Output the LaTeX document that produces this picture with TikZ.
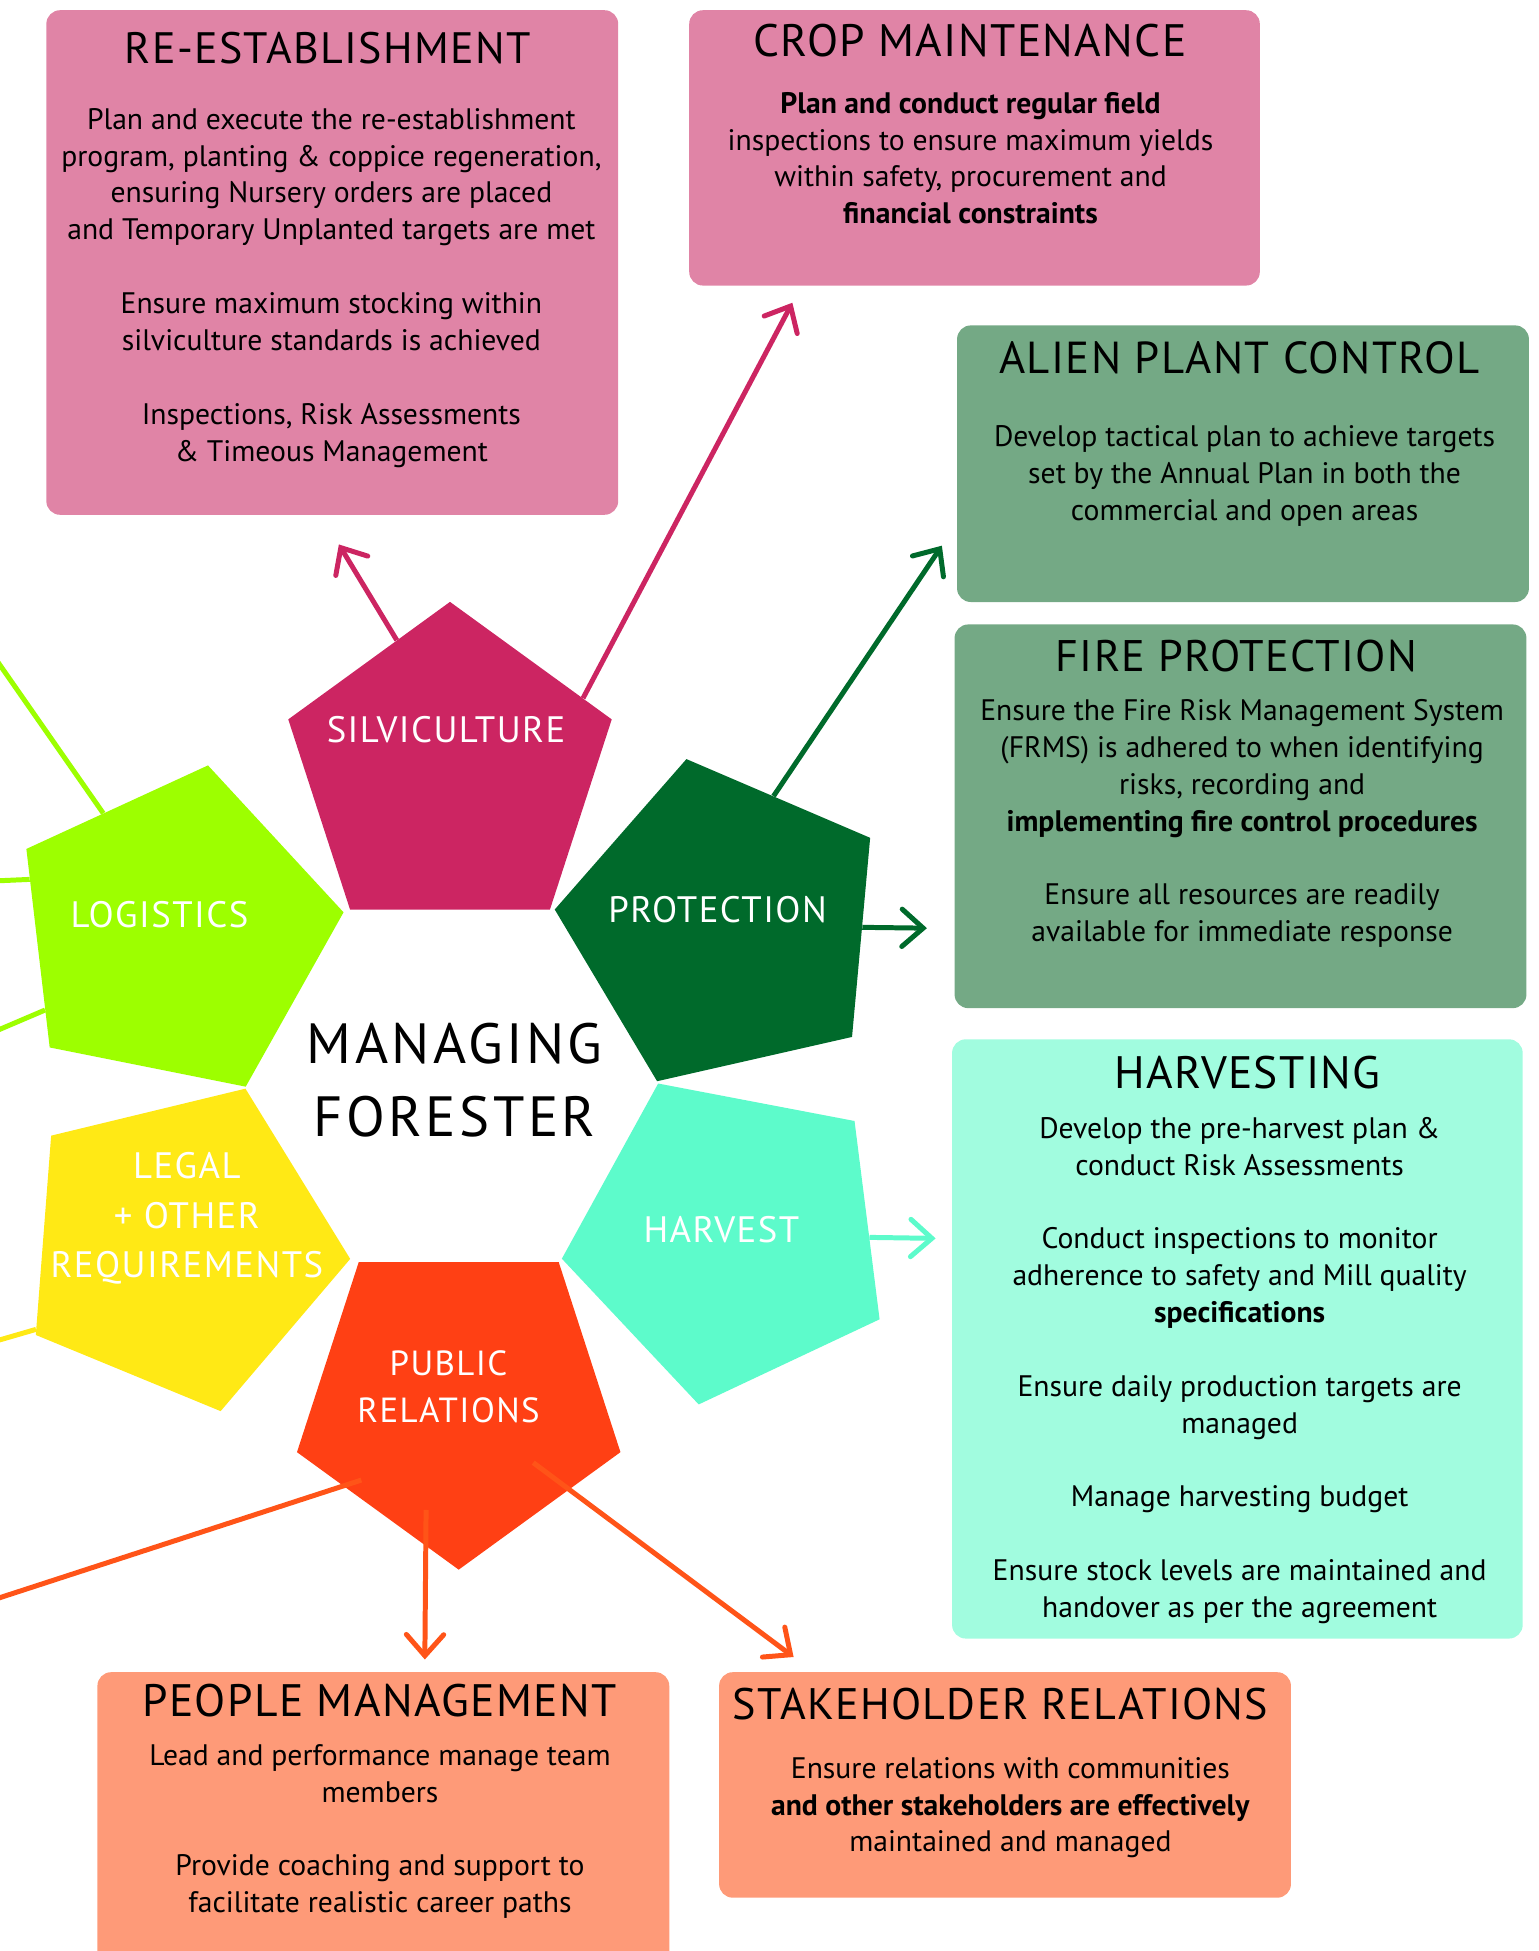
\documentclass[tikz,border=0pt]{standalone}
\usepackage{fontspec}
\setmainfont{PT Sans}
\newfontfamily\labfont[LetterSpace=4]{PT Sans}
\newfontfamily\ttlfont[LetterSpace=3]{PT Sans}
\newfontfamily\ctrfont[LetterSpace=6]{PT Sans}
\usetikzlibrary{shapes.geometric,arrows.meta}
\definecolor{pinkbox}{HTML}{E084A6}
\definecolor{magenta1}{HTML}{CC2562}
\definecolor{greenbox}{HTML}{74A985}
\definecolor{darkgreen}{HTML}{006A2B}
\definecolor{lime1}{HTML}{9DFF00}
\definecolor{yellow1}{HTML}{FFE915}
\definecolor{aqua1}{HTML}{5DFBCB}
\definecolor{aquabox}{HTML}{A1FCDF}
\definecolor{redorange}{HTML}{FF4014}
\definecolor{orangeline}{HTML}{FF5418}
\definecolor{salmonbox}{HTML}{FE9A78}
\tikzset{
  infobox/.style={rounded corners=11pt, anchor=north west, inner sep=0pt, draw=none},
  pent/.style={regular polygon, regular polygon sides=5, minimum size=273pt, inner sep=0pt, draw=none},
  ttl/.style={anchor=base, inner sep=0pt, font=\ttlfont\fontsize{36.5}{40}\selectfont},
  bdy/.style={align=center, inner sep=0pt, font=\fontsize{23.8}{29.6}\selectfont},
  lab/.style={text=white, align=center, inner sep=0pt, font=\labfont\fontsize{29.5}{39.5}\selectfont},
  conn/.style={line width=4pt, -{Straight Barb[length=17pt,width=30pt,line cap=round]}},
  plainline/.style={line width=4pt}
}
\begin{document}
\begin{tikzpicture}[x=1pt,y=-1pt]
\useasboundingbox (0,0) rectangle (1235,1566);
\clip (0,0) rectangle (1235,1566);

% ---------- boxes ----------
\node[infobox, fill=pinkbox, minimum width=459pt, minimum height=405pt] (re) at (37,8) {};
\node[infobox, fill=pinkbox, minimum width=458pt, minimum height=221pt] (crop) at (553,8) {};
\node[infobox, fill=greenbox, minimum width=459pt, minimum height=222pt] (alien) at (768,261) {};
\node[infobox, fill=greenbox, minimum width=459pt, minimum height=308pt] (fire) at (766,501) {};
\node[infobox, fill=aquabox, minimum width=458pt, minimum height=481pt] (harv) at (764,834) {};
\node[infobox, fill=salmonbox, minimum width=459pt, minimum height=250pt] (people) at (78,1342) {};
\node[infobox, fill=salmonbox, minimum width=459pt, minimum height=181pt] (stake) at (577,1342) {};

% ---------- titles ----------
\node[ttl, font=\ttlfont\fontsize{35.3}{40}\selectfont] (reT) at (263,50.6) {RE-ESTABLISHMENT};
\node[ttl] (cropT) at (778.5,45) {CROP MAINTENANCE};
\node[ttl, font=\ttlfont\fontsize{36}{40}\selectfont] (alienT) at (995,299.5) {ALIEN PLANT CONTROL};
\node[ttl, font=\ttlfont\fontsize{35.5}{40}\selectfont] (fireT) at (992.5,538.7) {FIRE PROTECTION};
\node[ttl] (harvT) at (1001.5,874) {HARVESTING};
\node[ttl] (peopleT) at (304.5,1378) {PEOPLE MANAGEMENT};
\node[ttl, font=\ttlfont\fontsize{35.4}{40}\selectfont] (stakeT) at (803,1380) {STAKEHOLDER RELATIONS};

% ---------- body texts ----------
\node[bdy] (reB) at (266,231) {Plan and execute the re-establishment\\
program, planting \& coppice regeneration,\\
ensuring Nursery orders are placed\\
and Temporary Unplanted targets are met\\
{}\\
Ensure maximum stocking within\\
silviculture standards is achieved\\
{}\\
Inspections, Risk Assessments\\
\& Timeous Management};

\node[bdy] (cropB) at (779,127) {\textbf{Plan and conduct regular field}\\
inspections to ensure maximum yields\\
within safety, procurement and\\
\textbf{financial constraints}};

\node[bdy] (alienB) at (999,382) {Develop tactical plan to achieve targets\\
set by the Annual Plan in both the\\
commercial and open areas};

\node[bdy] (fireB) at (997,661) {Ensure the Fire Risk Management System\\
(FRMS) is adhered to when identifying\\
risks, recording and\\
\textbf{implementing fire control procedures}\\
{}\\
Ensure all resources are readily\\
available for immediate response};

\node[bdy] (harvB) at (995,1100) {Develop the pre-harvest plan \&\\
conduct Risk Assessments\\
{}\\
Conduct inspections to monitor\\
adherence to safety and Mill quality\\
\textbf{specifications}\\
{}\\
Ensure daily production targets are\\
managed\\
{}\\
Manage harvesting budget\\
{}\\
Ensure stock levels are maintained and\\
handover as per the agreement};

\node[bdy] (peopleB) at (305,1470) {Lead and performance manage team\\
members\\
{}\\
Provide coaching and support to\\
facilitate realistic career paths};

\node[bdy] (stakeB) at (811,1451) {Ensure relations with communities\\
\textbf{and other stakeholders are effectively}\\
maintained and managed};

% ---------- pentagons ----------
\node[pent, fill=magenta1, shape border rotate=0] (silv) at (361.2,619.6) {};
\node[pent, fill=lime1, shape border rotate=-11.3] (logi) at (140.2,748.2) {};
\node[pent, fill=darkgreen, shape border rotate=12.8] (prot) at (581.2,742.4) {};
\node[pent, fill=aqua1, shape border rotate=25.2] (harvP) at (586.4,993.2) {};
\node[pent, fill=redorange, shape border rotate=180] (pr) at (368.2,1123.4) {};
\node[pent, fill=yellow1, shape border rotate=-22.4] (legal) at (145,1000) {};

% ---------- pentagon labels ----------
\node[lab] (silvL) at (358,586) {SILVICULTURE};
\node[lab] (logiL) at (128,734) {LOGISTICS};
\node[lab] (protL) at (576,730) {PROTECTION};
\node[lab] (harvL) at (579,987) {HARVEST};
\node[lab] (legalL) at (150,978) {LEGAL\\+ OTHER\\REQUIREMENTS};
\node[lab, font=\labfont\fontsize{28}{37.5}\selectfont] (prL) at (360,1113) {PUBLIC\\RELATIONS};
\node[align=center, inner sep=0pt, font=\ctrfont\fontsize{45.5}{58}\selectfont] (center) at (365,867) {MANAGING\\FORESTER};

% ---------- free ends ----------
\coordinate (tipRe) at (272,437);
\coordinate (tipCrop) at (636,243);
\coordinate (tipAlien) at (756,438);
\coordinate (tipFire) at (744,745);
\coordinate (tipHarv) at (751,994);
\coordinate (tipPeople) at (341,1332);
\coordinate (tipStake) at (637,1330);
\coordinate (endL1) at (-2,531);
\coordinate (endL2) at (-2,707);
\coordinate (endL3) at (-2,827);
\coordinate (endLeg) at (-2,1076);
\coordinate (endPr) at (-2,1283);

% ---------- connectors ----------
\draw[conn, magenta1] (silv.112.4) -- (tipRe);
\draw[conn, magenta1] (silv.29.2) -- (tipCrop);
\draw[conn, darkgreen] (prot.69.6) -- (tipAlien);
\draw[conn, darkgreen] (prot.-1.3) -- (tipFire);
\draw[conn, aqua1] (harvP.0.4) -- (tipHarv);
\draw[plainline, lime1] (logi.121.4) -- (endL1);
\draw[plainline, lime1] (logi.160.6) -- (endL2);
\draw[plainline, lime1] (logi.211.5) -- (endL3);
\draw[plainline, yellow1] (legal.210.2) -- (endLeg);
\draw[plainline, orangeline] ([shift={(-78.2,64.6)}]pr.center) -- (endPr);
\draw[conn, orangeline] ([shift={(-26.2,88.6)}]pr.center) -- (tipPeople);
\draw[conn, orangeline] ([shift={(59.8,50.6)}]pr.center) -- (tipStake);
\end{tikzpicture}
\end{document}
